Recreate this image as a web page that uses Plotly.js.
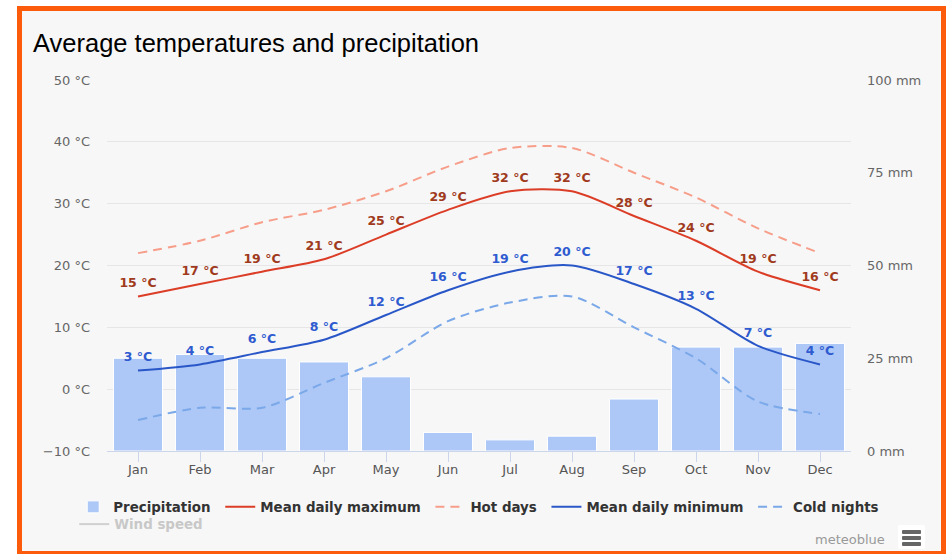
<!DOCTYPE html>
<html>
<head>
<meta charset="utf-8">
<script src="https://cdn.plot.ly/plotly-3.0.1.min.js"></script>
<style>
  html, body { margin: 0; padding: 0; background: #ffffff; }
  #frame { position: absolute; left: 17px; top: 6px; width: 919px; height: 540px;
           border: 5px solid #fd5b0c; border-bottom-width: 3px; background: #f7f7f7; }
  #chart { position: absolute; left: 0; top: 0; width: 948px; height: 555px; }
  #menu { position: absolute; left: 898px; top: 525px; width: 27px; height: 24px;
          background: #ffffff; border-radius: 2px; }
  #menu div { position: absolute; left: 4px; width: 19px; height: 4px; background: #666666; border-radius: 1px; }
</style>
</head>
<body>
<div id="frame"></div>
<div id="chart"></div>
<div id="menu"><div style="top:5px"></div><div style="top:11px"></div><div style="top:17px"></div></div>
<script>
const months = ['Jan', 'Feb', 'Mar', 'Apr', 'May', 'Jun', 'Jul', 'Aug', 'Sep', 'Oct', 'Nov', 'Dec'];
const precipitation = [25, 26, 25, 24, 20, 5, 3, 4, 14, 28, 28, 29];
const meanDailyMax = [15, 17, 19, 21, 25, 29, 32, 32, 28, 24, 19, 16];
const hotDays = [22, 24, 27, 29, 32, 36, 39, 39, 35, 31, 26, 22];
const meanDailyMin = [3, 4, 6, 8, 12, 16, 19, 20, 17, 13, 7, 4];
const coldNights = [-5, -3, -3, 1, 5, 11, 14, 15, 10, 5, -2, -4];
// hidden series in the reference: no values shown
const windSpeed = [null, null, null, null, null, null, null, null, null, null, null, null];
const tempTicks = [-10, 0, 10, 20, 30, 40, 50];
const precTicks = [0, 25, 50, 75, 100];

const label = v => v + ' \u00B0C';
const lblFont = (c) => ({ family: 'DejaVu Sans', size: 12.5, weight: 'bold', color: c });
const pad = s => s + '\u00A0';

const traces = [
  { type: 'bar', name: pad('Precipitation'), x: months, y: precipitation, yaxis: 'y',
    marker: { color: '#adc8f7', line: { color: '#ffffff', width: 1 } }, hoverinfo: 'skip' },
  { type: 'scatter', mode: 'lines+markers+text', name: pad('Mean daily maximum'), x: months, y: meanDailyMax, yaxis: 'y2',
    line: { color: '#dc3d26', width: 2, shape: 'spline', smoothing: 0.8 },
    marker: { size: 8, color: 'rgba(0,0,0,0)', line: { width: 0 } },
    text: meanDailyMax.map(label), textposition: 'top center', textfont: lblFont('#a03a1d') },
  { type: 'scatter', mode: 'lines', name: pad('Hot days'), x: months, y: hotDays, yaxis: 'y2',
    line: { color: '#f79e8a', width: 2, dash: '9px,6px', shape: 'spline', smoothing: 0.8 } },
  { type: 'scatter', mode: 'lines+markers+text', name: pad('Mean daily minimum'), x: months, y: meanDailyMin, yaxis: 'y2',
    line: { color: '#2a57c8', width: 2, shape: 'spline', smoothing: 0.8 },
    marker: { size: 8, color: 'rgba(0,0,0,0)', line: { width: 0 } },
    text: meanDailyMin.map(label), textposition: 'top center', textfont: lblFont('#2f5bd0') },
  { type: 'scatter', mode: 'lines', name: pad('Cold nights'), x: months, y: coldNights, yaxis: 'y2',
    line: { color: '#7aa8e8', width: 2, dash: '9px,6px', shape: 'spline', smoothing: 0.8 } },
  { type: 'scatter', mode: 'lines', name: 'Wind speed', x: months, y: windSpeed, yaxis: 'y2',
    visible: 'legendonly', legend: 'legend2', line: { color: '#aaaaaa', width: 2 } }
];

const tickFont = { family: 'DejaVu Sans', size: 13, color: '#666666' };

const layout = {
  width: 948, height: 555,
  margin: { l: 107, r: 97, t: 80, b: 104 },
  paper_bgcolor: 'rgba(0,0,0,0)', plot_bgcolor: 'rgba(0,0,0,0)',
  title: { text: 'Average temperatures and precipitation', x: 33 / 948, xanchor: 'left', xref: 'container',
           y: 1 - 43 / 555, yanchor: 'middle', yref: 'container',
           font: { family: 'Liberation Sans', size: 25.5, color: '#000000' } },
  bargap: 0.21,
  showlegend: true,
  xaxis: { type: 'category', range: [-0.5, 11.5], tickfont: { family: 'DejaVu Sans', size: 13, color: '#555555' },
           showline: true, linecolor: '#ccd6eb', linewidth: 1, ticks: 'outside', ticklen: 10,
           tickcolor: '#ccd6eb', showgrid: false, zeroline: false, fixedrange: true, ticklabelstandoff: -4 },
  yaxis: { range: [0, 100], tickvals: precTicks, ticktext: precTicks.map(v => v + ' mm'), side: 'right',
           showgrid: false, zeroline: false, tickfont: tickFont, ticklabelstandoff: 15, fixedrange: true },
  yaxis2: { range: [-10, 50], tickvals: tempTicks, ticktext: tempTicks.map(v => (v < 0 ? '\u2212' + (-v) : v) + ' \u00B0C'),
            overlaying: 'y', side: 'left', showgrid: true, gridcolor: '#e6e6e6', gridwidth: 1,
            zeroline: false, tickfont: tickFont, ticklabelstandoff: 16, fixedrange: true },
  legend: { orientation: 'h', x: -0.0454, xanchor: 'left', y: -0.1096, yanchor: 'top',
            font: { family: 'DejaVu Sans', size: 13.4, weight: 'bold', color: '#333333' },
            bgcolor: 'rgba(0,0,0,0)', itemclick: false, itemdoubleclick: false },
  legend2: { orientation: 'h', x: -0.044, xanchor: 'left', y: -0.156, yanchor: 'top',
             font: { family: 'DejaVu Sans', size: 13.4, weight: 'bold', color: '#999999' },
             bgcolor: 'rgba(0,0,0,0)' },
  annotations: [
    { text: 'meteoblue', xref: 'paper', yref: 'paper', x: (887 - 107) / 744, y: (451 - 539) / 371,
      xanchor: 'right', yanchor: 'middle', showarrow: false,
      font: { family: 'DejaVu Sans', size: 13, color: '#999999' } }
  ]
};

Plotly.newPlot('chart', traces, layout, { displayModeBar: false, staticPlot: true });
</script>
</body>
</html>
